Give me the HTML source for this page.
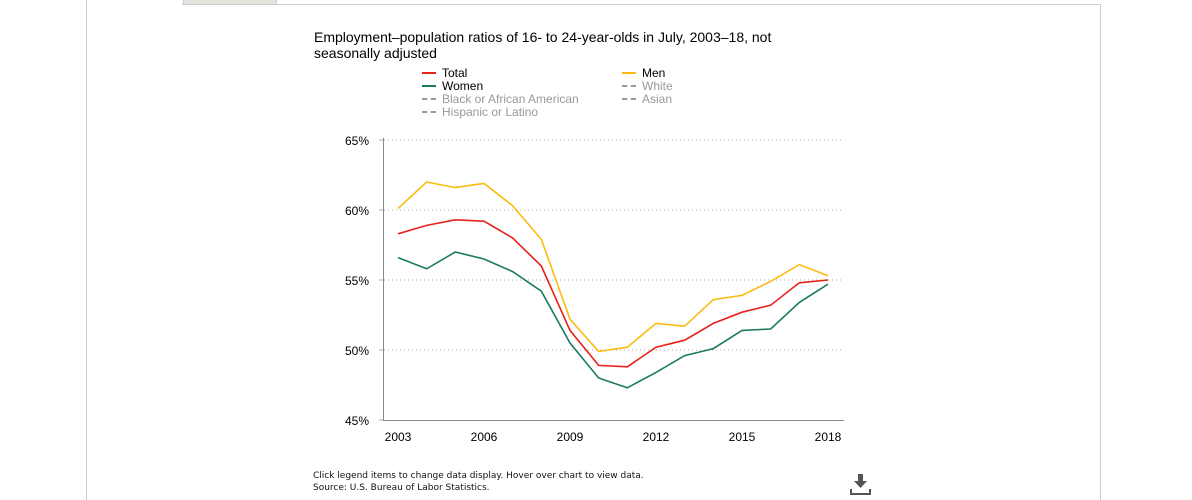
<!DOCTYPE html>
<html><head><meta charset="utf-8"><style>
body{margin:0;width:1192px;height:500px;background:#fff;position:relative;overflow:hidden;font-family:"Liberation Sans",Arial,sans-serif}
.abs{position:absolute}
.leg{position:absolute;font-size:12px;line-height:13px;white-space:nowrap}
.sw{display:inline-block;width:14px;height:0;border-top:2px solid;vertical-align:middle;margin-right:6px;margin-top:-2px}
.dash{border-top:2px dashed #999}
.off{color:#999}
</style></head><body>
<div class="abs" style="left:86px;top:0;width:1px;height:500px;background:#ccc"></div>
<div class="abs" style="left:1100px;top:4px;width:1px;height:496px;background:#ccc"></div>
<div class="abs" style="left:182px;top:4px;width:919px;height:1px;background:#ccc"></div>
<div class="abs" style="left:183px;top:0;width:92px;height:4px;background:#e2e6de;border-left:1px solid #ccc;border-right:1px solid #ccc"></div>
<div class="abs" style="left:314px;top:29px;width:480px;font-size:14px;line-height:16px;color:#000">Employment–population ratios of 16- to 24-year-olds in July, 2003–18, not seasonally adjusted</div>
<div class="leg" style="left:422px;top:67px"><span class="sw" style="border-color:#e8211c"></span>Total</div>
<div class="leg" style="left:422px;top:80px"><span class="sw" style="border-color:#1a7a63"></span>Women</div>
<div class="leg off" style="left:422px;top:93px"><span class="sw dash"></span>Black or African American</div>
<div class="leg off" style="left:422px;top:106px"><span class="sw dash"></span>Hispanic or Latino</div>
<div class="leg" style="left:622px;top:67px"><span class="sw" style="border-color:#fbbb10"></span>Men</div>
<div class="leg off" style="left:622px;top:80px"><span class="sw dash"></span>White</div>
<div class="leg off" style="left:622px;top:93px"><span class="sw dash"></span>Asian</div>
<svg id="chart" class="abs" style="left:0;top:0" width="1192" height="500"></svg>
<div class="abs" style="left:313px;top:470px;font-size:9px;line-height:12px;font-family:'DejaVu Sans',sans-serif;color:#111">Click legend items to change data display. Hover over chart to view data.<br>Source: U.S. Bureau of Labor Statistics.</div>
<svg class="abs" style="left:850px;top:474px" width="22" height="22"><path d="M8 0h5v7h4l-6.5 7L4 7h4z" fill="#555"/><path d="M1 15v5h19v-5" stroke="#555" stroke-width="2" fill="none"/></svg>
<script>
const years=[2003,2004,2005,2006,2007,2008,2009,2010,2011,2012,2013,2014,2015,2016,2017,2018];
const totalVals=[58.3,58.9,59.3,59.2,58.0,56.0,51.4,48.9,48.8,50.2,50.7,51.9,52.7,53.2,54.8,55.0];
const menVals=[60.1,62.0,61.6,61.9,60.3,57.9,52.2,49.9,50.2,51.9,51.7,53.6,53.9,54.9,56.1,55.3];
const womenVals=[56.6,55.8,57.0,56.5,55.6,54.2,50.5,48.0,47.3,48.4,49.6,50.1,51.4,51.5,53.4,54.7];
const yTicks=[45,50,55,60,65];
const xTickYears=[2003,2006,2009,2012,2015,2018];
const svg=document.getElementById('chart');const NS='http://www.w3.org/2000/svg';
const X=y=>398+(y-2003)*(430/15);
const Y=v=>420-(v-45)*14;
function mk(t,a){const e=document.createElementNS(NS,t);for(const k in a)e.setAttribute(k,a[k]);svg.appendChild(e);return e;}
yTicks.forEach(v=>{
  if(v>45){const g=mk('line',{x1:384,x2:843,y1:Y(v),y2:Y(v),stroke:'#aaa','stroke-dasharray':'1,3'});
  
  }
  const t=mk('text',{x:369,y:Y(v)+5,'text-anchor':'end','font-size':12,fill:'#000','font-family':'Liberation Sans, sans-serif'});t.textContent=v+'%';
  
  
  const tk=mk('line',{x1:379,x2:384,y1:Y(v),y2:Y(v),stroke:'#aab'});
  
  
});
const ax=mk('line',{x1:383.5,x2:383.5,y1:138,y2:420,stroke:'#888'});


const bx=mk('line',{x1:383,x2:844,y1:420.5,y2:420.5,stroke:'#888'});


xTickYears.forEach(y=>{const t=mk('text',{x:X(y),y:441,'text-anchor':'middle','font-size':12,fill:'#000','font-family':'Liberation Sans, sans-serif'});t.textContent=y;
  
  });
[[menVals,'#fbbb10','line-men'],[totalVals,'#e8211c','line-total'],[womenVals,'#1a7a63','line-women']].forEach(([vals,c,n])=>{
  const p=mk('polyline',{points:vals.map((v,i)=>X(years[i])+','+Y(v)).join(' '),fill:'none',stroke:c,'stroke-width':1.6});
  
  
});
</script>
</body></html>
